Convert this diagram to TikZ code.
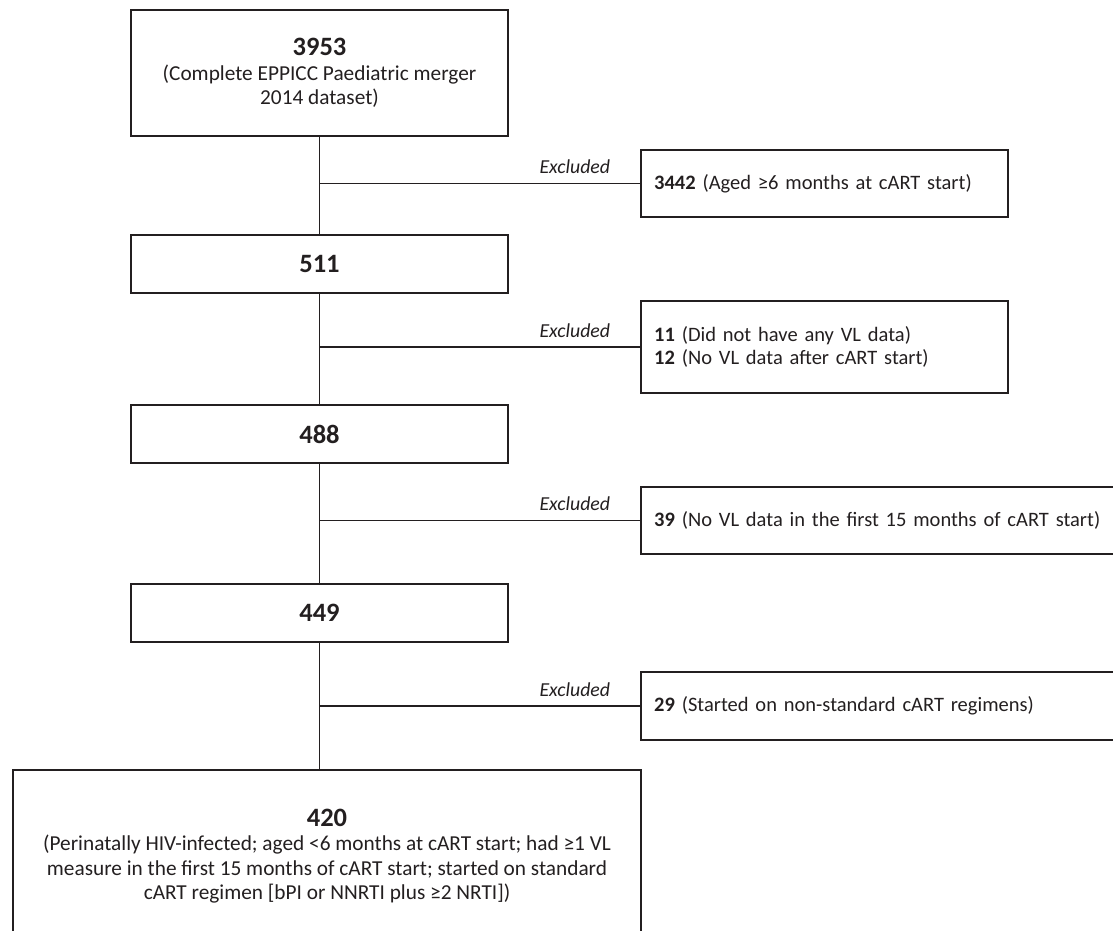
\documentclass[tikz,border=0pt]{standalone}
\usepackage{fontspec}
\setmainfont{Carlito}
\definecolor{ink}{HTML}{231F20}

\begin{document}
\begin{tikzpicture}[x=1pt, y=-1pt,
      stage/.style={draw=ink, line width=2.4pt, text=ink, align=center, minimum width=377pt,
                    inner sep=0pt, font=\fontsize{21.3}{24.5}\selectfont},
      drop/.style={draw=ink, line width=2.4pt, text=ink, align=left, anchor=west,
                   inner xsep=13pt, inner ysep=0pt, font=\fontsize{20.5}{23}\selectfont},
      link/.style={draw=ink, line width=1.8pt},
      excl/.style={anchor=base east, xshift=-29pt, yshift=10pt, inner sep=0pt, text=ink,
                   font=\fontsize{19.8}{22}\selectfont\itshape}]
      \useasboundingbox (0, 0) rectangle (1113, 931);
      \clip (0, 0) rectangle (1113, 931);
      % main column
      \node [stage, minimum height=126pt] (s3953) at (319.5, 73)
            {{\bfseries\fontsize{26.5}{30}\selectfont 3953}\\(Complete EPPICC Paediatric merger\\2014 dataset)};
      \node [stage, minimum height=58pt] (s511) at (319.5, 264) {\bfseries\fontsize{26.5}{30}\selectfont 511};
      \node [stage, minimum height=58pt] (s488) at (319.5, 434) {\bfseries\fontsize{26.5}{30}\selectfont 488};
      \node [stage, minimum height=58pt] (s449) at (319.5, 613) {\bfseries\fontsize{26.5}{30}\selectfont 449};
      \node [stage, minimum width=628pt, minimum height=172pt] (s420) at (327, 856)
            {{\bfseries\fontsize{26.5}{30}\selectfont 420}\\(Perinatally HIV-infected; aged <6 months at cART start; had ≥1 VL\\
             measure in the first 15 months of cART start; started on standard\\
             cART regimen [bPI or NNRTI plus ≥2 NRTI])};
      % excluded boxes
      \node [drop, text width=341pt, minimum height=67pt] (x3442) at (640, 183.5)
            {\textbf{3442} (Aged ≥6 months at cART start)};
      \node [drop, text width=341pt, minimum height=92pt] (x23) at (640, 347)
            {\textbf{11} (Did not have any VL data)\\\textbf{12} (No VL data after cART start)};
      \node [drop, text width=500pt, minimum height=67pt] (x39) at (640, 520.5)
            {\textbf{39} (No VL data in the first 15 months of cART start)};
      \node [drop, text width=500pt, minimum height=68pt] (x29) at (640, 706)
            {\textbf{29} (Started on non-standard cART regimens)};
      % connectors
      \draw [link] (s3953.south) -- (s511.north)
                   (s511.south) -- (s488.north)
                   (s488.south) -- (s449.north)
                   (s449.south) -- (s449.south |- s420.north);
      \draw [link] (s3953.south |- x3442.west) -- (x3442.west) node [excl] {Excluded}
                   (s511.south |- x23.west) -- (x23.west) node [excl] {Excluded}
                   (s488.south |- x39.west) -- (x39.west) node [excl] {Excluded}
                   (s449.south |- x29.west) -- (x29.west) node [excl] {Excluded};
\end{tikzpicture}
\end{document}
